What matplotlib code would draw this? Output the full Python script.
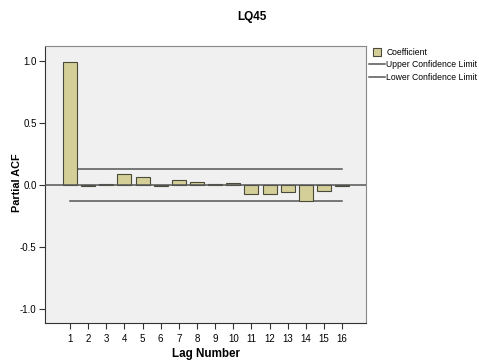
import matplotlib
matplotlib.use("Agg")
import matplotlib.pyplot as plt
from matplotlib.patches import Patch, Rectangle
from matplotlib.lines import Line2D
from matplotlib.legend_handler import HandlerPatch

plt.rcParams['font.family'] = ['Liberation Sans', 'DejaVu Sans']

lags = list(range(1, 17))
pacf = [0.99, -0.005, 0.005, 0.086, 0.067, -0.005, 0.038, 0.027, 0.008, 0.019,
        -0.07, -0.07, -0.059, -0.129, -0.051, -0.01]
upper = [0.129] * 16
lower = [-0.129] * 16
yticks = [-1.0, -0.5, 0.0, 0.5, 1.0]

BAR = "#D4CF98"
EDGE = "#4a4a3a"
LINE = "#555555"

fig = plt.figure(figsize=(4.79, 3.62), dpi=100)
ax = fig.add_axes([45/479, 1 - 323/362, (366-45)/479, (323-46)/362])
ax.set_facecolor("#F0F0F0")
ax.bar(lags, pacf, width=0.77, color=BAR, edgecolor=EDGE, linewidth=0.8, zorder=3)
ax.plot(lags, upper, color=LINE, lw=1.1, zorder=2)
ax.plot(lags, lower, color=LINE, lw=1.1, zorder=2)
ax.axhline(0, color=LINE, lw=1.1, zorder=4)
ax.set_xlim(-0.38, 17.32)
ax.set_ylim(-1.113, 1.12)
ax.set_xticks(lags)
ax.set_xticklabels([str(l) for l in lags], fontsize=7)
ax.set_yticks(yticks)
ax.set_yticklabels([f"{v:.1f}" for v in yticks], fontsize=7)
for s in ax.spines.values():
    s.set_color("#888888")
    s.set_linewidth(0.8)
ax.spines["left"].set_color("#333333")
ax.spines["bottom"].set_color("#333333")
ax.tick_params(axis="both", length=4, width=0.8, color="#333333", pad=2)
ax.tick_params(axis="x", pad=4)
ax.set_xlabel("Lag Number", fontsize=8.4, fontweight="bold", labelpad=3)
fig.text(17/479, 1 - 183/362, "Partial ACF", rotation=90, ha="center", va="center",
         fontsize=7.8, fontweight="bold")
fig.text(252/479, 1 - 17/362, "LQ45", ha="center", va="center", fontsize=8.5, fontweight="bold")


def square_patch(legend, orig_handle, xdescent, ydescent, width, height, fontsize):
    s = 5.2
    return Rectangle((width / 2 - s / 2 - xdescent, height / 2 - s / 2 - ydescent), s, s)


handles = [Patch(facecolor=BAR, edgecolor=EDGE, linewidth=0.8),
           Line2D([], [], color=LINE, lw=1.1),
           Line2D([], [], color=LINE, lw=1.1)]
labels = ["Coefficient", "Upper Confidence Limit", "Lower Confidence Limit"]
fig.legend(handles, labels, loc="upper left", bbox_to_anchor=(369/479, 1 - 48/362),
           frameon=False, fontsize=6.2, handlelength=1.85, handletextpad=0.15,
           labelspacing=0.38, borderaxespad=0, borderpad=0,
           handler_map={Patch: HandlerPatch(patch_func=square_patch)})

fig.savefig("out.png", dpi=100)
